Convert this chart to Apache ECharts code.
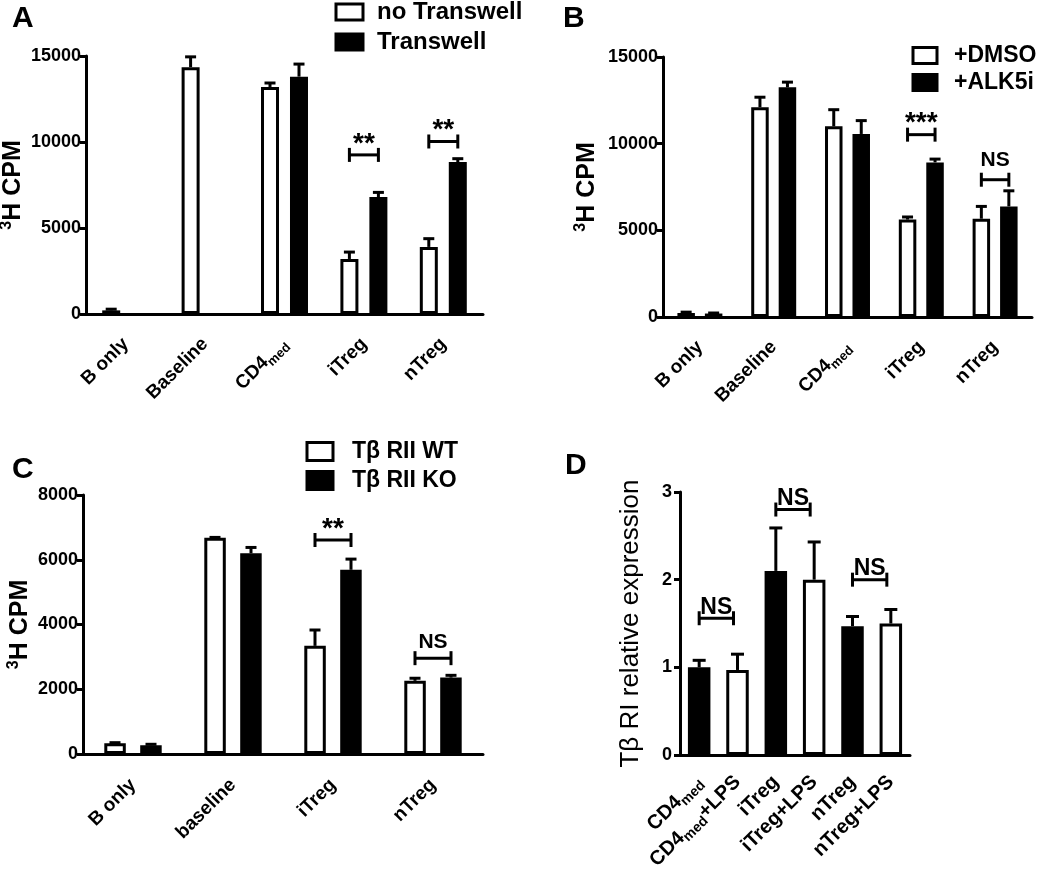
<!DOCTYPE html>
<html><head><meta charset="utf-8">
<script src="https://cdn.jsdelivr.net/npm/echarts@6/dist/echarts.min.js"></script>
<style>html,body{margin:0;padding:0;background:#fff}#c{width:1050px;height:876px}</style>
</head><body><div id="c"></div>
<script>
// ---------- Panel A ----------
const catsA = ['B only', 'Baseline', 'CD4med', 'iTreg', 'nTreg'];
const noTranswell = [210, 14350, 13200, 3200, 3900];
const noTranswellErr = [70, 600, 230, 400, 480];
const transwell = [null, null, 13800, 6800, 8830];
const transwellErr = [null, null, 730, 270, 200];
const ticksA = [0, 5000, 10000, 15000];
const sigCatsA = ['iTreg', 'nTreg'];
const sigYA = [9250, 10030];
const sigTextA = ['**', '**'];
// ---------- Panel B ----------
const catsB = ['B only', 'Baseline', 'CD4med', 'iTreg', 'nTreg'];
const dmso = [230, 12100, 11000, 5620, 5670];
const dmsoErr = [50, 580, 960, 150, 710];
const alk5i = [200, 13250, 10560, 8920, 6380];
const alk5iErr = [30, 300, 770, 190, 900];
const ticksB = [0, 5000, 10000, 15000];
const sigCatsB = ['iTreg', 'nTreg'];
const sigYB = [10520, 7920];
const sigTextB = ['***', 'NS'];
// ---------- Panel C ----------
const catsC = ['B only', 'baseline', 'iTreg', 'nTreg'];
const wt = [330, 6680, 3340, 2260];
const wtErr = [20, 10, 490, 80];
const ko = [270, 6200, 5690, 2360];
const koErr = [30, 180, 330, 70];
const ticksC = [0, 2000, 4000, 6000, 8000];
const sigCatsC = ['iTreg', 'nTreg'];
const sigYC = [6610, 2960];
const sigTextC = ['**', 'NS'];
// ---------- Panel D ----------
const catsD = ['CD4med', 'CD4med+LPS', 'iTreg', 'iTreg+LPS', 'nTreg', 'nTreg+LPS'];
const expr = [1.0, 0.97, 2.10, 2.0, 1.47, 1.50];
const exprErr = [0.08, 0.18, 0.49, 0.43, 0.11, 0.16];
const ticksD = [0, 1, 2, 3];
const sigCatsD = ['CD4med', 'iTreg', 'nTreg'];
const sigYD = [1.56, 2.8, 2.0];
const sigTextD = ['NS', 'NS', 'NS'];

const FONT = 'Liberation Sans, Arial, Helvetica, sans-serif';
const BLACK = '#000';

function catFmt(v) {
  return v.replace('CD4med', 'CD4{sub|med}');
}
function subRich(fs) {
  return { sub: { fontSize: fs, fontWeight: 'bold', fontFamily: FONT, color: BLACK, verticalAlign: 'bottom', lineHeight: fs, padding: [0, 0, -3, 0] } };
}

function xAxis(g, cats, fs, margin) {
  return {
    type: 'category', gridIndex: g, data: cats,
    axisLine: { lineStyle: { color: BLACK, width: 3 } },
    axisTick: { alignWithLabel: true, length: 9, lineStyle: { color: BLACK, width: 3 } },
    axisLabel: { interval: 0, rotate: 45, margin: margin, fontSize: fs, fontWeight: 'bold', fontFamily: FONT, color: BLACK, formatter: catFmt, rich: subRich(Math.round(fs * 0.68)) },
    splitLine: { show: false }
  };
}
function yAxis(g, ticks, name, gap, nameStyle, fs, margin) {
  return {
    type: 'value', gridIndex: g, min: ticks[0], max: ticks[ticks.length - 1], interval: ticks[1] - ticks[0],
    axisLine: { show: true, lineStyle: { color: BLACK, width: 3 } },
    axisTick: { show: true, length: 6, lineStyle: { color: BLACK, width: 3 } },
    axisLabel: { fontSize: fs, fontWeight: 'bold', fontFamily: FONT, color: BLACK, margin: margin, formatter: v => String(v) },
    splitLine: { show: false },
    name: name, nameLocation: 'middle', nameRotate: 90, nameGap: gap,
    nameTextStyle: nameStyle
  };
}
const cpmNameStyle = {
  fontSize: 25, fontWeight: 'bold', fontFamily: FONT, color: BLACK, lineHeight: 28,
  rich: { sup: { fontSize: 16, fontWeight: 'bold', fontFamily: FONT, color: BLACK, verticalAlign: 'top', lineHeight: 16 } }
};

const whiteStyle = { color: '#fff', borderColor: BLACK, borderWidth: 3 };
const blackStyle = { color: BLACK, borderColor: BLACK, borderWidth: 3 };

function bar(name, g, data, style, bw, gap) {
  return { type: 'bar', name: name, xAxisIndex: g, yAxisIndex: g, data: data.map(v => v == null ? '-' : v),
    barWidth: bw, barGap: gap, itemStyle: style, silent: true, z: 2 };
}

function errSeries(g, vals, errs, off, capW) {
  const d = [];
  vals.forEach((v, i) => { if (v != null) d.push([i, v, errs[i]]); });
  return {
    type: 'custom', xAxisIndex: g, yAxisIndex: g, data: d, z: 4, silent: true,
    renderItem: function (params, api) {
      const x = api.value(0), v = api.value(1), e = api.value(2);
      const p0 = api.coord([x, v]);
      const p1 = api.coord([x, v + e]);
      const cx = p0[0] + off;
      return { type: 'group', children: [
        { type: 'line', shape: { x1: cx, y1: p0[1], x2: cx, y2: p1[1] }, style: { stroke: BLACK, lineWidth: 3 } },
        { type: 'line', shape: { x1: cx - capW / 2, y1: p1[1], x2: cx + capW / 2, y2: p1[1] }, style: { stroke: BLACK, lineWidth: 3 } }
      ] };
    }
  };
}

// off given: bracket spans +-off around category center; off null: from category i to i+1
function sigSeries(g, cats, sigCats, ys, texts, off, nsGap, nsSize) {
  const d = sigCats.map((c, i) => [cats.indexOf(c), ys[i]]);
  return {
    type: 'custom', xAxisIndex: g, yAxisIndex: g, data: d, z: 5, silent: true,
    renderItem: function (params, api) {
      const i = api.value(0), y = api.value(1);
      const t = texts[params.dataIndex];
      const p = api.coord([i, y]);
      let x1, x2;
      if (off != null) { x1 = p[0] - off; x2 = p[0] + off; }
      else { x1 = p[0]; x2 = api.coord([i + 1, y])[0] - 4; }
      const star = t.indexOf('*') >= 0;
      return { type: 'group', children: [
        { type: 'line', shape: { x1: x1, y1: p[1], x2: x2, y2: p[1] }, style: { stroke: BLACK, lineWidth: 3 } },
        { type: 'line', shape: { x1: x1, y1: p[1] - 7, x2: x1, y2: p[1] + 7 }, style: { stroke: BLACK, lineWidth: 3 } },
        { type: 'line', shape: { x1: x2, y1: p[1] - 7, x2: x2, y2: p[1] + 7 }, style: { stroke: BLACK, lineWidth: 3 } },
        { type: 'text', style: { text: t, x: (x1 + x2) / 2, y: p[1] - (star ? 11 : nsGap), align: 'center', verticalAlign: 'middle',
          font: star ? 'bold 28px ' + FONT : 'bold ' + nsSize + 'px ' + FONT, fill: BLACK } }
      ] };
    }
  };
}

const offA = 14.5, offB = 13.75, offC = 18;
const titleStyle = { fontSize: 30, fontWeight: 'bold', fontFamily: FONT, color: BLACK };

const option = {
  backgroundColor: '#fff',
  animation: false,
  textStyle: { fontFamily: FONT },
  title: [
    { text: 'A', left: 12, top: 4, padding: 0, textStyle: titleStyle },
    { text: 'B', left: 563, top: 4, padding: 0, textStyle: titleStyle },
    { text: 'C', left: 12, top: 455, padding: 0, textStyle: titleStyle },
    { text: 'D', left: 565, top: 451, padding: 0, textStyle: titleStyle }
  ],
  legend: [
    { left: 334.5, top: 0, padding: 0, orient: 'vertical', icon: 'rect', itemWidth: 27, itemHeight: 16, itemGap: 6, selectedMode: false,
      textStyle: { fontSize: 24, fontWeight: 'bold', fontFamily: FONT, color: BLACK, lineHeight: 24, padding: [0, 0, 0, 9] },
      data: [{ name: 'no Transwell', itemStyle: whiteStyle }, { name: 'Transwell', itemStyle: blackStyle }] },
    { left: 911.5, top: 44, padding: 0, orient: 'vertical', icon: 'rect', itemWidth: 24, itemHeight: 16, itemGap: 4, selectedMode: false,
      textStyle: { fontSize: 23, fontWeight: 'bold', fontFamily: FONT, color: BLACK, lineHeight: 23, padding: [0, 0, 0, 12] },
      data: [{ name: '+DMSO', itemStyle: whiteStyle }, { name: '+ALK5i', itemStyle: blackStyle }] },
    { left: 305.5, top: 440, padding: 0, orient: 'vertical', icon: 'rect', itemWidth: 26, itemHeight: 18, itemGap: 6, selectedMode: false,
      textStyle: { fontSize: 23, fontWeight: 'bold', fontFamily: FONT, color: BLACK, lineHeight: 23, padding: [0, 0, 0, 14] },
      data: [{ name: 'Tβ RII WT', itemStyle: whiteStyle }, { name: 'Tβ RII KO', itemStyle: blackStyle }] }
  ],
  grid: [
    { left: 86, top: 56, width: 397, height: 258, outerBoundsMode: 'none', containLabel: false },
    { left: 663, top: 57, width: 369, height: 260, outerBoundsMode: 'none', containLabel: false },
    { left: 83, top: 495, width: 400, height: 259, outerBoundsMode: 'none', containLabel: false },
    { left: 680, top: 492, width: 230, height: 263, outerBoundsMode: 'none', containLabel: false }
  ],
  xAxis: [
    xAxis(0, catsA, 19, 27),
    xAxis(1, catsB, 19, 27),
    xAxis(2, catsC, 19, 28),
    xAxis(3, catsD, 20, 24)
  ],
  yAxis: [
    yAxis(0, ticksA, '{sup|3}H CPM', 58, cpmNameStyle, 18, 5),
    yAxis(1, ticksB, '{sup|3}H CPM', 62, cpmNameStyle, 18, 5),
    yAxis(2, ticksC, '{sup|3}H CPM', 48, cpmNameStyle, 18, 5),
    yAxis(3, ticksD, 'Tβ RI relative expression', 36, { fontSize: 26, fontWeight: 'normal', fontFamily: FONT, color: BLACK }, 18, 8)
  ],
  series: [
    bar('no Transwell', 0, noTranswell, whiteStyle, 18, '61%'),
    bar('Transwell', 0, transwell, blackStyle, 18, '61%'),
    errSeries(0, noTranswell, noTranswellErr, -offA, 11),
    errSeries(0, transwell, transwellErr, offA, 11),
    sigSeries(0, catsA, sigCatsA, sigYA, sigTextA, offA, 18, 21),

    bar('+DMSO', 1, dmso, whiteStyle, 17.5, '57%'),
    bar('+ALK5i', 1, alk5i, blackStyle, 17.5, '57%'),
    errSeries(1, dmso, dmsoErr, -offB, 11),
    errSeries(1, alk5i, alk5iErr, offB, 11),
    sigSeries(1, catsB, sigCatsB, sigYB, sigTextB, offB, 20, 21),

    bar('Tβ RII WT', 2, wt, whiteStyle, 21.5, '67%'),
    bar('Tβ RII KO', 2, ko, blackStyle, 21.5, '67%'),
    errSeries(2, wt, wtErr, -offC, 11),
    errSeries(2, ko, koErr, offC, 11),
    sigSeries(2, catsC, sigCatsC, sigYC, sigTextC, offC, 16, 21),

    { type: 'bar', name: 'TbRI', xAxisIndex: 3, yAxisIndex: 3, barWidth: 22.5, silent: true, z: 2,
      data: expr.map((v, i) => ({ value: v, itemStyle: i % 2 === 0 ? blackStyle : whiteStyle })) },
    errSeries(3, expr, exprErr, 0, 13),
    sigSeries(3, catsD, sigCatsD, sigYD, sigTextD, null, 11, 23)
  ]
};

const chart = echarts.init(document.getElementById('c'), null, { renderer: 'canvas' });
chart.setOption(option);
</script>
</body></html>
